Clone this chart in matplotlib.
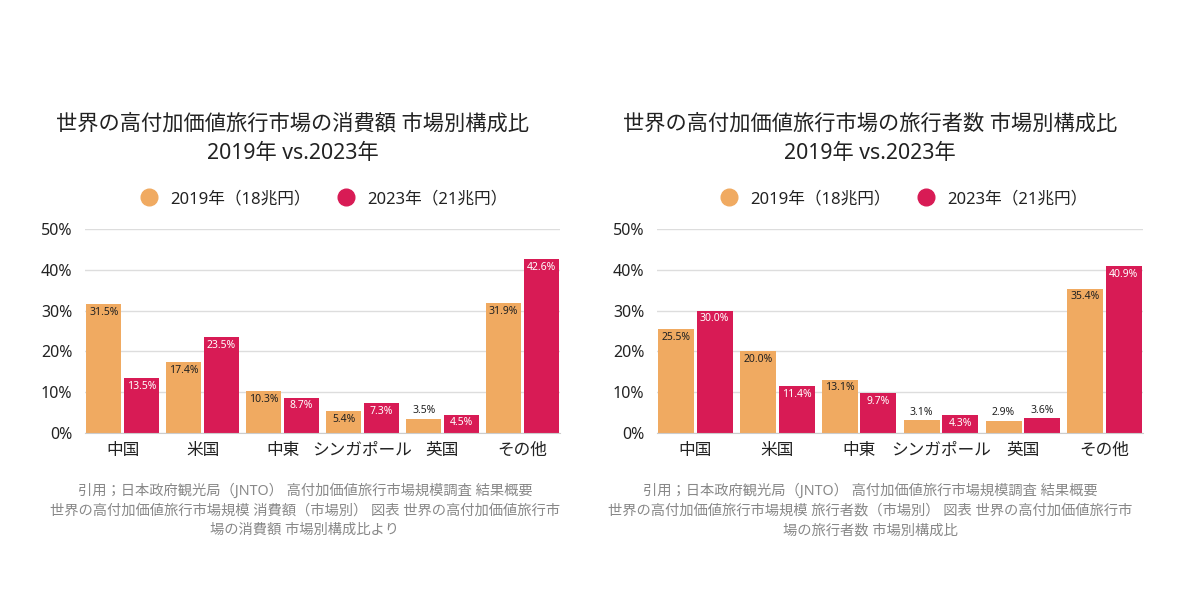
import matplotlib
matplotlib.use("Agg")
import matplotlib.pyplot as plt
import numpy as np
from matplotlib.lines import Line2D

plt.rcParams['font.family'] = ['Noto Sans', 'Noto Sans CJK JP', 'DejaVu Sans']

categories = ["中国", "米国", "中東", "シンガポール", "英国", "その他"]
spend_2019 = [31.5, 17.4, 10.3, 5.4, 3.5, 31.9]
spend_2023 = [13.5, 23.5, 8.7, 7.3, 4.5, 42.6]
travelers_2019 = [25.5, 20.0, 13.1, 3.1, 2.9, 35.4]
travelers_2023 = [30.0, 11.4, 9.7, 4.3, 3.6, 40.9]
series_labels = ["2019年（18兆円）", "2023年（21兆円）"]
yticks = [0, 10, 20, 30, 40, 50]
ytick_labels = ["0%", "10%", "20%", "30%", "40%", "50%"]

titles = ["世界の高付加価値旅行市場の消費額 市場別構成比\n2019年 vs.2023年",
          "世界の高付加価値旅行市場の旅行者数 市場別構成比\n2019年 vs.2023年"]
sources = ["引用；日本政府観光局（JNTO） 高付加価値旅行市場規模調査 結果概要\n世界の高付加価値旅行市場規模 消費額（市場別） 図表 世界の高付加価値旅行市\n場の消費額 市場別構成比より",
           "引用；日本政府観光局（JNTO） 高付加価値旅行市場規模調査 結果概要\n世界の高付加価値旅行市場規模 旅行者数（市場別） 図表 世界の高付加価値旅行市\n場の旅行者数 市場別構成比"]

C19 = "#F0AA61"
C23 = "#D81B55"
TXT = "#222222"

fig = plt.figure(figsize=(12, 6), dpi=100)

panels = [
    dict(rect=[85/1200, 1-433/600, 475/1200, 204/600], d19=spend_2019, d23=spend_2023,
         title_x=293/1200, legend_x=320/1200, source_x=305/1200, title=titles[0], source=sources[0]),
    dict(rect=[657/1200, 1-433/600, 486/1200, 204/600], d19=travelers_2019, d23=travelers_2023,
         title_x=870/1200, legend_x=900/1200, source_x=870/1200, title=titles[1], source=sources[1]),
]

x = np.arange(len(categories))
w = 0.44
off = 0.235

for p in panels:
    ax = fig.add_axes(p["rect"])
    b1 = ax.bar(x - off, p["d19"], width=w, color=C19, zorder=3)
    b2 = ax.bar(x + off, p["d23"], width=w, color=C23, zorder=3)
    for bars, vals, col in ((b1, p["d19"], TXT), (b2, p["d23"], "white")):
        for rect, v in zip(bars, vals):
            cx = rect.get_x() + rect.get_width() / 2
            if v < 4:
                ax.annotate(f"{v:.1f}%", (cx, v), xytext=(0, 2), textcoords="offset points",
                            ha="center", va="bottom", fontsize=7.5, color=TXT, zorder=4)
            else:
                ax.annotate(f"{v:.1f}%", (cx, v), xytext=(0, -2), textcoords="offset points",
                            ha="center", va="top", fontsize=7.5, color=col, zorder=4)
    ax.set_xlim(-0.47, 5.47)
    ax.set_ylim(0, 50)
    ax.set_yticks(yticks)
    ax.set_yticklabels(ytick_labels, fontsize=11.5, color=TXT)
    ax.set_xticks(x)
    ax.set_xticklabels(categories, fontsize=12, color=TXT)
    ax.tick_params(length=0)
    ax.tick_params(axis="x", pad=7)
    ax.tick_params(axis="y", pad=9)
    ax.grid(axis="y", color="#dddddd", linewidth=1, zorder=0)
    for s in ["left", "right", "top"]:
        ax.spines[s].set_visible(False)
    ax.spines["bottom"].set_color("#cccccc")
    ax.spines["bottom"].set_zorder(5)

    fig.text(p["title_x"], 1-139/600, p["title"], ha="center", va="center",
             fontsize=15.3, color=TXT, linespacing=1.5)
    handles = [Line2D([], [], marker="o", linestyle="", markersize=12, color=C19),
               Line2D([], [], marker="o", linestyle="", markersize=12, color=C23)]
    fig.legend(handles, series_labels, loc="center", bbox_to_anchor=(p["legend_x"], 1-199/600),
               ncol=2, frameon=False, fontsize=12, handletextpad=0.3, columnspacing=1.1,
               labelcolor=TXT)
    fig.text(p["source_x"], 1-511/600, p["source"], ha="center", va="center",
             fontsize=10.3, color="#888888", linespacing=1.4)

fig.savefig("out.png", dpi=100, facecolor="white")
